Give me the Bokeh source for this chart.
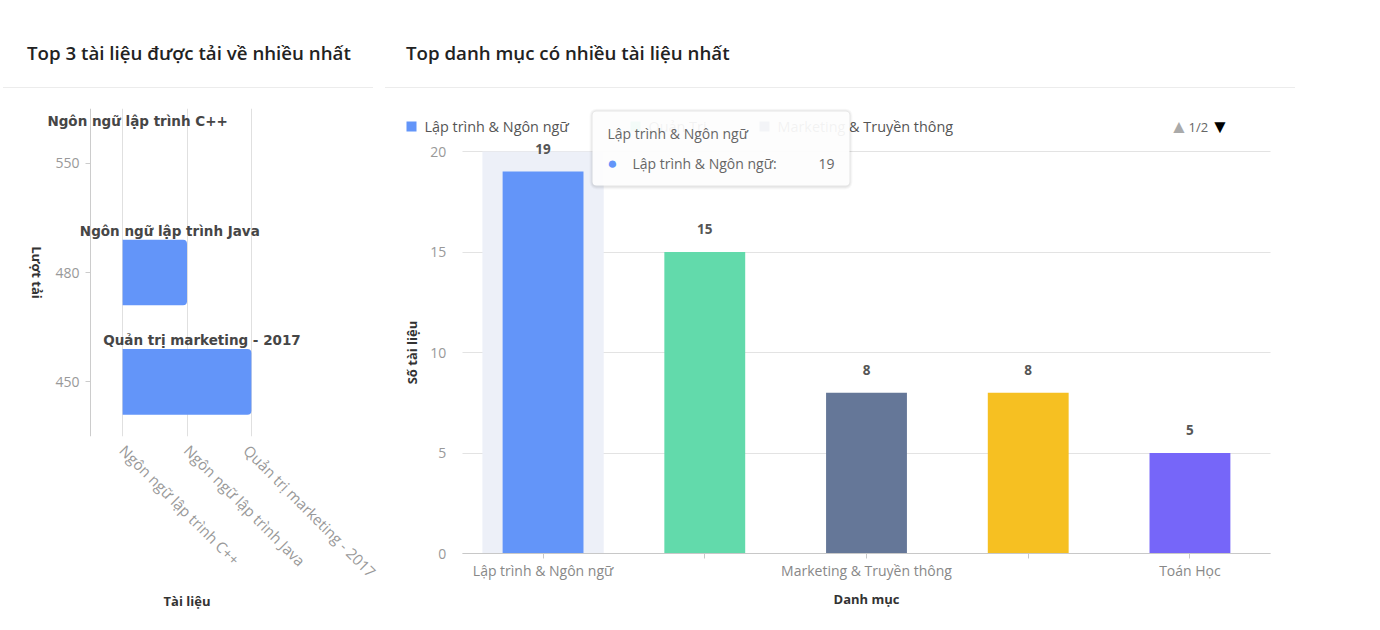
import math
from bokeh.plotting import figure
from bokeh.models import (FactorRange, Range1d, FixedTicker, Label, BoxAnnotation,
                          ColumnDataSource, Div, CustomJSTickFormatter)
from bokeh.layouts import row, column
from bokeh.embed import file_html
from bokeh.resources import INLINE
from bokeh.core.properties import value

# ---------------- data ----------------
left_title = "Top 3 tài liệu được tải về nhiều nhất"
docs = ["Ngôn ngữ lập trình C++", "Ngôn ngữ lập trình Java", "Quản trị marketing - 2017"]
downloads = [550, 480, 450]
left_x_title = "Tài liệu"
left_y_title = "Lượt tải"

right_title = "Top danh mục có nhiều tài liệu nhất"
cats = ["Lập trình & Ngôn ngữ", "Quản Trị", "Marketing & Truyền thông", "Kinh Tế", "Toán Học"]
counts = [19, 15, 8, 8, 5]
bar_colors = ["#6395f9", "#62daab", "#657798", "#f6c022", "#7666f9"]
y_ticks = [0, 5, 10, 15, 20]
hidden_x_labels = [cats[1], cats[3]]
right_x_title = "Danh mục"
right_y_title = "Số tài liệu"
legend_page = "1/2"
legend_count = 3  # items shown on the first legend page

FONT = "Open Sans"

# ---------------- headers ----------------
def header(text, w, ml, pad_left):
    return Div(width=w, height=88, margin=0, text=(
        f'<div style="box-sizing:border-box;margin-left:{ml}px;width:{w - ml}px;height:88px;padding-top:41px;'
        f'padding-left:{pad_left}px;font-family:\'Open Sans\';font-size:18.7px;font-weight:600;'
        f'line-height:24px;color:#222;border-bottom:1px solid #ececec;white-space:nowrap;">{text}</div>'))

div1 = header(left_title, 373, 3, 24)
div2 = header(right_title, 910, 0, 21)

# ---------------- left chart ----------------
y_factors = [str(v) for v in sorted(downloads)]
p1 = figure(width=380, height=534,
            x_range=FactorRange(factors=docs, range_padding=0.5167),
            y_range=FactorRange(factors=y_factors),
            output_backend="svg", toolbar_location=None,
            min_border_left=40, min_border_right=47, min_border_top=20, min_border_bottom=186,
            outline_line_color=None, margin=0)

src1 = ColumnDataSource(dict(
    y=[str(v) for v in downloads],
    left=[docs[0]] * len(docs),
    right=docs,
    mid=[(0.5 + (i + 0.5)) / 2 for i in range(len(docs))],
    label=docs,
))
p1.hbar(y="y", left="left", right="right", height=0.6, source=src1,
        fill_color="#6395f9", line_color=None, border_radius=(0, 4, 4, 0))
p1.text(x="mid", y="y", text="label", source=src1, x_offset=15, y_offset=-42,
        text_align="center", text_baseline="middle", text_font=value("DejaVu Sans"),
        text_font_style="bold", text_font_size="13.5px", text_color="#464646")

p1.xgrid.grid_line_color = "#e0e0e0"
p1.ygrid.grid_line_color = None
xa = p1.xaxis[0]
xa.axis_line_color = None
xa.major_tick_line_color = None
xa.minor_tick_line_color = None
xa.major_label_orientation = -math.pi / 4
xa.major_label_text_color = "#999999"
xa.major_label_text_font = FONT
xa.major_label_text_font_size = "15px"
xa.major_label_standoff = 5
xa.axis_label = left_x_title
xa.axis_label_text_font = FONT
xa.axis_label_text_font_style = "bold"
xa.axis_label_text_font_size = "13px"
xa.axis_label_text_color = "#333333"
xa.axis_label_standoff = 0

ya = p1.yaxis[0]
ya.fixed_location = 0
ya.axis_line_color = "#cccccc"
ya.major_tick_line_color = "#cccccc"
ya.major_tick_out = 5
ya.major_tick_in = 0
ya.minor_tick_line_color = None
ya.major_label_text_color = "#999999"
ya.major_label_text_font = FONT
ya.major_label_text_font_size = "14px"
ya.major_label_standoff = 6

p1.add_layout(Label(x=14, y=164, x_units="screen", y_units="screen", text=left_y_title,
                    angle=-math.pi / 2, text_align="center", text_baseline="middle",
                    text_font=FONT, text_font_style="bold", text_font_size="13px",
                    text_color="#333333"), "left")

# ---------------- right chart ----------------
YMAX = max(y_ticks)
p2 = figure(width=955, height=534,
            x_range=FactorRange(factors=cats, range_padding=0.16),
            y_range=Range1d(-YMAX * 67 / 402, YMAX * 445 / 402),
            output_backend="svg", toolbar_location=None,
            min_border_left=12, min_border_right=5, min_border_top=20, min_border_bottom=2,
            outline_line_color=None, margin=0)

p2.vbar(x=[cats[0]], top=[YMAX], bottom=0, width=0.75,
        fill_color="#edf0f8", line_color=None)

src2 = ColumnDataSource(dict(x=cats, top=counts, color=bar_colors, label=[str(c) for c in counts]))
bars = p2.vbar(x="x", top="top", width=0.5, source=src2, fill_color="color", line_color=None)
p2.text(x="x", y="top", text="label", source=src2, y_offset=-23,
        text_align="center", text_baseline="middle", text_font=value(FONT),
        text_font_style="bold", text_font_size="13.5px", text_color="#555555")

p2.xgrid.grid_line_color = None
p2.ygrid.grid_line_color = "#e3e3e3"
p2.ygrid.cross_bounds = (0, len(cats))
p2.yaxis.ticker = FixedTicker(ticks=y_ticks)
ya2 = p2.yaxis[0]
ya2.fixed_location = 0
ya2.bounds = (0, YMAX)
ya2.axis_line_color = None
ya2.major_tick_line_color = None
ya2.minor_tick_line_color = None
ya2.major_label_text_color = "#999999"
ya2.major_label_text_font = FONT
ya2.major_label_text_font_size = "14px"
ya2.major_label_standoff = 10
ya2.axis_label = right_y_title
ya2.axis_label_text_font = FONT
ya2.axis_label_text_font_style = "bold"
ya2.axis_label_text_font_size = "13px"
ya2.axis_label_text_color = "#333333"
ya2.axis_label_standoff = 6

xa2 = p2.xaxis[0]
xa2.fixed_location = 0
xa2.bounds = (0, len(cats))
xa2.axis_line_color = "#c8c8c8"
xa2.major_tick_line_color = "#c8c8c8"
xa2.major_tick_out = 5
xa2.major_tick_in = 0
xa2.major_label_text_color = "#888888"
xa2.major_label_text_font = FONT
xa2.major_label_text_font_size = "14px"
xa2.major_label_standoff = 2
xa2.formatter = CustomJSTickFormatter(args=dict(hidden=hidden_x_labels),
                                      code="return hidden.includes(tick) ? '' : tick;")
xa2.axis_label = right_x_title
xa2.axis_label_text_font = FONT
xa2.axis_label_text_font_style = "bold"
xa2.axis_label_text_font_size = "13px"
xa2.axis_label_text_color = "#333333"
xa2.axis_label_standoff = 7

B = 67          # frame bottom sits this many px below the value 0
LY = 427 + B    # legend row (frame-relative, px)
item_x = [9, 233, 362]   # legend item starts (px from frame left)

# legend (page 1)
for i in range(legend_count):
    p2.add_layout(BoxAnnotation(left=item_x[i], right=item_x[i] + 10, bottom=LY - 5, top=LY + 5,
                                left_units="screen", right_units="screen",
                                top_units="screen", bottom_units="screen",
                                fill_color=bar_colors[i], fill_alpha=1, line_color=None))
    p2.add_layout(Label(x=item_x[i] + 18, y=LY, x_units="screen", y_units="screen", text=cats[i],
                        text_align="left", text_baseline="middle", text_font=FONT,
                        text_font_size="14.4px", text_color="#555555"))

# pager
p2.add_layout(Label(x=772, y=LY, x_units="screen", y_units="screen", text="▲",
                    text_align="left", text_baseline="middle", text_font_size="19px",
                    text_color="#aaaaaa"))
p2.add_layout(Label(x=791, y=LY, x_units="screen", y_units="screen", text=legend_page,
                    text_align="left", text_baseline="middle", text_font=FONT,
                    text_font_size="13px", text_color="#666666"))
p2.add_layout(Label(x=813, y=LY, x_units="screen", y_units="screen", text="▼",
                    text_align="left", text_baseline="middle", text_font_size="19px",
                    text_color="#000000"))

# tooltip
TL, TR, TT, TB = 195, 452, 442 + B, 368 + B
for k, a in [(3, 0.025), (2, 0.035), (1, 0.045)]:
    p2.add_layout(BoxAnnotation(left=TL - k, right=TR + k, top=TT + k, bottom=TB - k - 1,
                                left_units="screen", right_units="screen",
                                top_units="screen", bottom_units="screen",
                                fill_color="#000000", fill_alpha=a, line_color=None,
                                border_radius=4 + k))
p2.add_layout(BoxAnnotation(left=TL, right=TR, top=TT, bottom=TB,
                            left_units="screen", right_units="screen",
                            top_units="screen", bottom_units="screen",
                            fill_color="#ffffff", fill_alpha=0.93, line_color=None,
                            border_radius=4))
p2.add_layout(Label(x=TL + 15, y=TT - 22, x_units="screen", y_units="screen", text=cats[0],
                    text_align="left", text_baseline="middle", text_font=FONT,
                    text_font_size="14px", text_color="#666666"))
p2.add_layout(Label(x=TL + 20, y=TT - 52, x_units="screen", y_units="screen", text="●",
                    text_align="center", text_baseline="middle",
                    text_font_size="17px", text_color=bar_colors[0]))
p2.add_layout(Label(x=TL + 40, y=TT - 52, x_units="screen", y_units="screen", text=cats[0] + ":",
                    text_align="left", text_baseline="middle", text_font=FONT,
                    text_font_size="14px", text_color="#666666"))
p2.add_layout(Label(x=TR - 15, y=TT - 52, x_units="screen", y_units="screen", text=str(counts[0]),
                    text_align="right", text_baseline="middle", text_font=FONT,
                    text_font_size="14px", text_color="#666666"))

layout = row(column(div1, p1, spacing=0), column(div2, p2, spacing=0), spacing=5)
open("out.html", "w").write(file_html(layout, INLINE))
